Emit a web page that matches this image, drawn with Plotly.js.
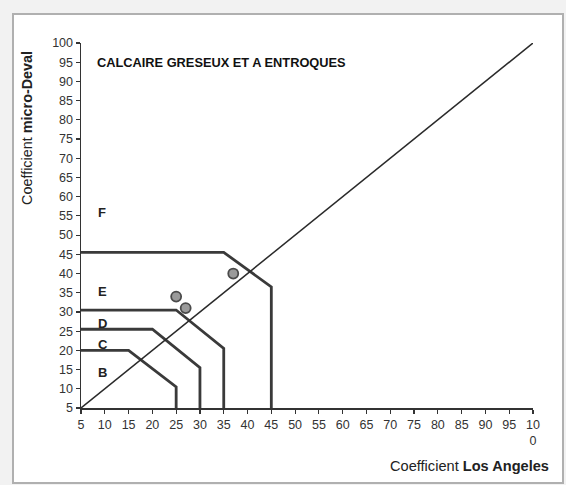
<!DOCTYPE html>
<html><head><meta charset="utf-8">
<script src="https://cdn.plot.ly/plotly-3.0.1.min.js"></script>
<style>html,body{margin:0;padding:0;background:#f2f2f2;}#c{width:566px;height:485px;}</style>
</head><body><div id="c"></div>
<script>
// Boundary lines between classes (Los Angeles, micro-Deval)
const bcX = [5, 15, 25, 25];   const bcY = [20, 20, 10.5, 5];
const cdX = [5, 20, 30, 30];   const cdY = [25.5, 25.5, 15.5, 5];
const deX = [5, 25, 35, 35];   const deY = [30.5, 30.5, 20.5, 5];
const efX = [5, 35, 45, 45];   const efY = [45.5, 45.5, 36.5, 5];
const diagX = [5, 100];        const diagY = [5, 100];
// Measured samples
const sampleLA = [37, 25, 27];
const sampleMDE = [40, 34, 31];
// Class labels
const classNames = ['F', 'E', 'D', 'C', 'B'];
const classX = [8.2, 8.2, 8.2, 8.2, 8.2];
const classY = [56, 35.3, 27, 21.6, 14.2];
// Ticks
const tickVals = [5,10,15,20,25,30,35,40,45,50,55,60,65,70,75,80,85,90,95,100];
const xTickText = tickVals.map(v => v === 100 ? '10<br>0' : String(v));
const yTickText = tickVals.map(String);

const lineStyle = {color: '#3a3a3a', width: 2.8};
const traces = [
  {x: bcX, y: bcY, mode: 'lines', line: lineStyle},
  {x: cdX, y: cdY, mode: 'lines', line: lineStyle},
  {x: deX, y: deY, mode: 'lines', line: lineStyle},
  {x: efX, y: efY, mode: 'lines', line: lineStyle},
  {x: diagX, y: diagY, mode: 'lines', line: {color: '#2a2a2a', width: 1.5}},
  {x: sampleLA, y: sampleMDE, mode: 'markers', cliponaxis: false,
   marker: {size: 10, color: '#9a9a9a', line: {color: '#4a4a4a', width: 1.8}}}
];
const F = 'Liberation Sans, Arial, sans-serif';
const annotations = classNames.map((t, i) => ({
  x: classX[i], y: classY[i], xref: 'x', yref: 'y', text: '<b>' + t + '</b>',
  showarrow: false, xanchor: 'left', yanchor: 'middle', font: {family: F, size: 13, color: '#222'}
}));
annotations.push({x: 8.0, y: 95, xref: 'x', yref: 'y', text: '<b>CALCAIRE GRESEUX ET A ENTROQUES</b>',
  showarrow: false, xanchor: 'left', yanchor: 'middle', font: {family: F, size: 12.8, color: '#111'}});
annotations.push({x: (551-81)/452, y: (408-466)/365, xref: 'paper', yref: 'paper',
  text: 'Coefficient <b>Los Angeles</b>', showarrow: false, xanchor: 'right', yanchor: 'middle',
  font: {family: F, size: 14.6, color: '#222'}});
annotations.push({x: (27-81)/452, y: (408-49)/365, xref: 'paper', yref: 'paper',
  text: 'Coefficient <b>micro-Deval</b>', textangle: -90, showarrow: false, xanchor: 'center', yanchor: 'top',
  font: {family: F, size: 14.4, color: '#222'}});

const axisCommon = {
  range: [5, 100], tickvals: tickVals, showgrid: false, zeroline: false,
  showline: true, linecolor: '#333', linewidth: 1.5, ticks: 'outside', ticklen: 4,
  tickcolor: '#333', tickwidth: 1.2, tickfont: {family: F, size: 12.5, color: '#333'}, fixedrange: true
};
const layout = {
  width: 566, height: 485, showlegend: false,
  margin: {l: 81, r: 33, t: 43, b: 77},
  paper_bgcolor: '#f2f2f2', plot_bgcolor: 'rgba(0,0,0,0)',
  xaxis: Object.assign({}, axisCommon, {ticktext: xTickText}),
  yaxis: Object.assign({}, axisCommon, {ticktext: yTickText}),
  annotations: annotations,
  shapes: [{type: 'rect', xref: 'paper', yref: 'paper', layer: 'below',
    x0: (13-81)/452, x1: (563-81)/452, y0: (408-483)/365, y1: (408-14)/365,
    fillcolor: '#ffffff', line: {color: '#b0b0b0', width: 2}}]
};
Plotly.newPlot('c', traces, layout, {staticPlot: true, displayModeBar: false});
</script></body></html>
